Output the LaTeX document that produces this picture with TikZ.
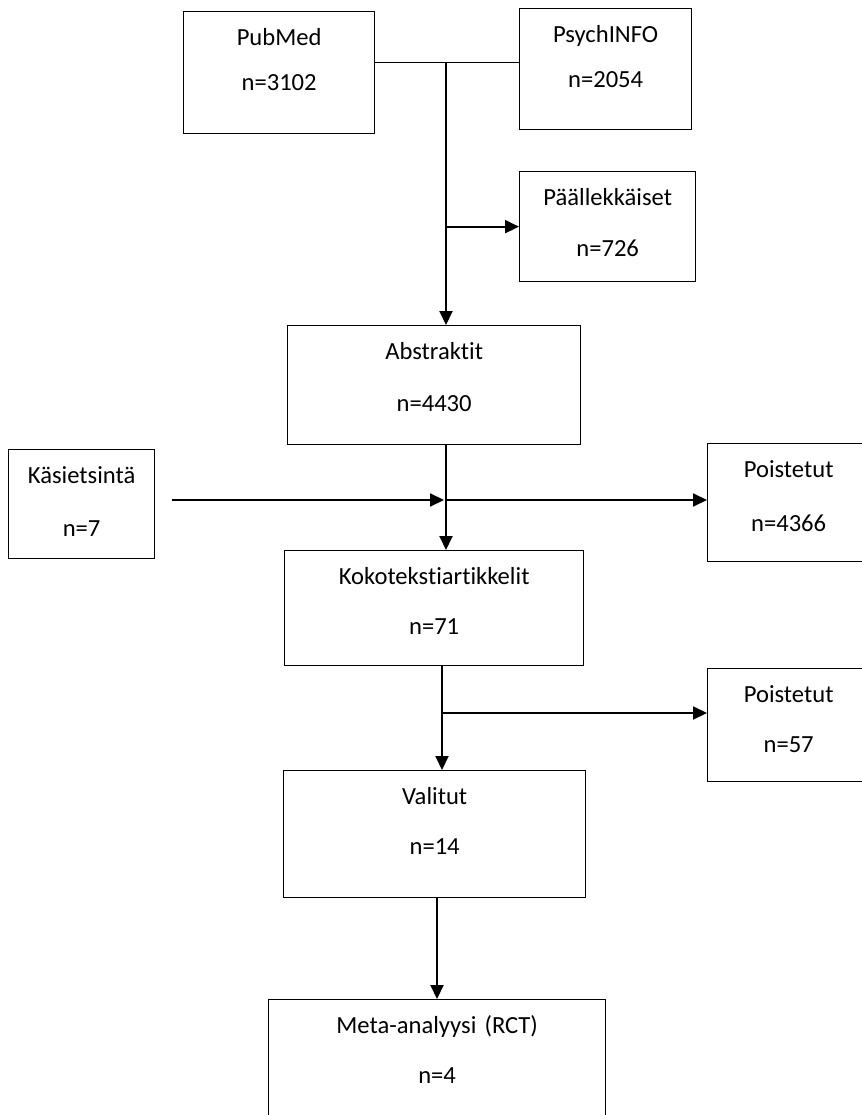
\documentclass[tikz,border=0pt]{standalone}
\usepackage{fontspec}
\setmainfont[Ligatures=NoCommon]{Carlito}
\usetikzlibrary{arrows.meta}

\begin{document}
\begin{tikzpicture}[
    x=1pt, y=-1pt,
    box/.style={rectangle, draw, line width=1.3pt, anchor=north west, align=center, inner xsep=0pt, inner ysep=16pt, text height=17.5pt, font=\fontsize{24.6}{29.5}\selectfont},
    flow/.style={line width=2pt, -{Triangle[length=14pt, width=13pt]}}
]
    \useasboundingbox (0,0) rectangle (861,1115);

    \node[box, text width=191pt, text depth=72.5pt] (pubmed) at (183,11) {PubMed\\[16pt] n=3102};
    \node[box, text width=172pt, text depth=71.5pt] (psych) at (519,8) {PsychINFO\\[16pt] n=2054};
    \node[box, text width=176pt, text depth=60.5pt] (paall) at (519,171) {Päällekkäiset\\[21.5pt] n=726};
    \node[box, text width=293pt, text depth=69.5pt] (abstr) at (287,325) {Abstraktit\\[22.5pt] n=4430};
    \node[box, text width=146pt, text depth=59.5pt] (kasi) at (8,449) {Käsietsintä\\[23.5pt] n=7};
    \node[box, text width=162pt, text depth=68.5pt] (poist1) at (707,443) {Poistetut\\[25pt] n=4366};
    \node[box, text width=299pt, text depth=65.5pt] (koko) at (284,550) {Kokotekstiartikkelit\\[20.5pt] n=71};
    \node[box, text width=162pt, text depth=63.5pt] (poist2) at (707,668) {Poistetut\\[21pt] n=57};
    \node[box, text width=302pt, text depth=77.5pt] (valit) at (283,770) {Valitut\\[21pt] n=14};
    \node[box, text width=337pt, text depth=77.5pt] (meta) at (268,999) {Meta-analyysi (RCT)\\[21pt] n=4};

    \coordinate (join) at (446,63);
    \coordinate (hub) at (446,500);
    \coordinate (split) at (442,713);

    % databases
    \draw[line width=1pt] (pubmed.east |- join) -- (psych.west |- join);
    \draw[flow] (join) -- (join |- abstr.north);
    \draw[flow] (join |- paall.west) -- (paall.west);

    % screening
    \draw[flow] ([xshift=17pt]kasi.east |- hub) -- ([xshift=-2pt]hub);
    \draw[flow] (hub) -- (poist1.west |- hub);
    \draw[flow] (abstr.south -| hub) -- (koko.north -| hub);

    % full texts
    \draw[flow] (koko.south -| split) -- (valit.north -| split);
    \draw[flow] (split) -- (poist2.west |- split);
    \draw[flow] (valit.south -| 437,0) -- (meta.north -| 437,0);
\end{tikzpicture}
\end{document}
